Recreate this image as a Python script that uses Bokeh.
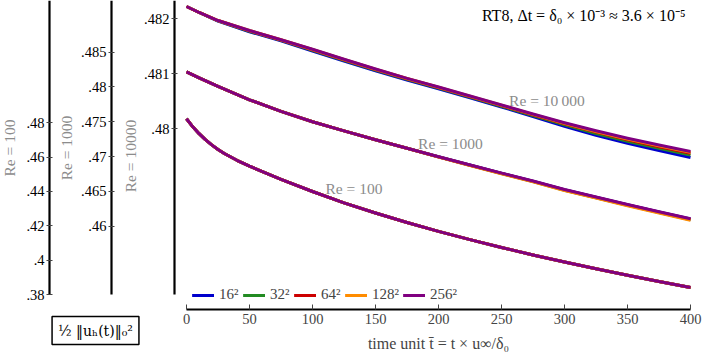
import math
from bokeh.plotting import figure
from bokeh.models import (Range1d, LinearAxis, FixedTicker, CustomJSTickFormatter,
                          Label, Legend, LegendItem)
from bokeh.embed import file_html
from bokeh.resources import INLINE

# ---------------- data ----------------
resolutions = ["16²", "32²", "64²", "128²", "256²"]
colors = ["#0000cc", "#228b22", "#cc0000", "#ff8c00", "#800080"]

# Re = 10 000
t_re10000 = [0, 10, 25, 50, 75, 100, 125, 150, 175, 200, 225, 250, 275, 300, 325, 350, 375, 400]
re10000_16 = [.482224, .482115, .481960, .481765, .481598, .481414, .481232, .481054, .480885, .480727,
              .480563, .480397, .480224, .480047, .479882, .479738, .479605, .479478]
re10000_32 = [.482224, .482115, .481964, .481774, .481607, .481429, .481247, .481069, .480900, .480742,
              .480576, .480411, .480242, .480073, .479915, .479774, .479645, .479521]
re10000_64 = [.482224, .482115, .481969, .481781, .481614, .481438, .481256, .481078, .480909, .480751,
              .480586, .480422, .480255, .480092, .479939, .479802, .479675, .479554]
re10000_128 = [.482224, .482115, .481969, .481787, .481620, .481443, .481261, .481083, .480914, .480756,
               .480591, .480428, .480262, .480101, .479952, .479815, .479690, .479571]
re10000_256 = [.482224, .482115, .481969, .481787, .481620, .481447, .481265, .481087, .480918, .480760,
               .480596, .480433, .480269, .480111, .479964, .479829, .479705, .479587]

# Re = 1000
t_re1000 = [0, 10, 25, 50, 75, 100, 125, 150, 175, 200, 225, 250, 275, 300, 325, 350, 375, 400]
re1000_16 = [.482184, .481322, .480086, .478161, .476494, .475000, .473693, .472428, .471193, .469976,
             .468783, .467609, .466464, .465243, .464165, .463078, .462043, .461023]
re1000_32 = [.482184, .481322, .480086, .478161, .476494, .475000, .473693, .472428, .471193, .469956,
             .468743, .467559, .466404, .465173, .464085, .462998, .461953, .460923]
re1000_64 = [.482184, .481322, .480086, .478161, .476494, .475000, .473693, .472428, .471193, .469966,
             .468763, .467589, .466444, .465213, .464135, .463048, .462003, .460983]
re1000_128 = [.482184, .481322, .480086, .478161, .476494, .475000, .473693, .472428, .471193, .469946,
              .468723, .467529, .466364, .465133, .464035, .462948, .461893, .460863]
re1000_256 = [.482184, .481322, .480086, .478161, .476494, .475000, .473693, .472428, .471193, .469986,
              .468793, .467629, .466494, .465273, .464195, .463118, .462083, .461063]

# Re = 100 (all resolutions coincide)
t_re100 = [0, 5, 10, 15, 20, 25, 30, 40, 50, 65, 75, 100, 125, 150, 175, 200, 225, 250, 275, 300,
           325, 350, 375, 400]
re100_256 = [.48230, .47764, .47362, .47013, .46710, .46443, .46210, .45814, .45470, .45004, .44707,
             .43997, .43339, .42745, .42192, .41674, .41197, .40737, .40300, .39892, .39496, .39124,
             .38757, .38408]
re100_16 = list(re100_256)
re100_32 = list(re100_256)
re100_64 = list(re100_256)
re100_128 = list(re100_256)

x_ticks = [0, 50, 100, 150, 200, 250, 300, 350, 400]
re10000_ticks = [.48, .481, .482]
re1000_ticks = [.46, .465, .47, .475, .48, .485]
re100_ticks = [.38, .40, .42, .44, .46, .48]

title_text = "RT8, Δt = δ₀ × 10⁻³ ≈ 3.6 × 10⁻⁵"
x_label = "time unit t̄ = t × u∞/δ₀"
y_box_label = "½ ‖uₕ(t)‖₀²"
axis_names = ["Re = 100", "Re = 1000", "Re = 10000"]

# ---------------- figure ----------------
FONT = "Liberation Serif"
GRAY = "#8c8c8c"
W, H = 706, 354

p = figure(width=W, height=H, output_backend="svg", toolbar_location=None,
           x_axis_location=None, y_axis_location=None,
           x_range=Range1d(-147.619, 412.698), y_range=Range1d(.475896, .482333),
           min_border_left=0, min_border_right=0, min_border_top=0, min_border_bottom=0)
p.extra_y_ranges = {"re1000": Range1d(.441566, .492428), "re100": Range1d(.345066, .551179)}
p.grid.visible = False
p.outline_line_color = None
p.background_fill_color = "white"
p.border_fill_color = "white"

fmt = CustomJSTickFormatter(code="return String(parseFloat(tick.toFixed(4))).replace(/^0\\./, '.');")


def y_axis(rng_name, ticks, bounds, loc):
    kw = {} if rng_name is None else {"y_range_name": rng_name}
    ax = LinearAxis(ticker=FixedTicker(ticks=ticks), bounds=bounds, fixed_location=loc, **kw)
    ax.axis_line_width = 2.2
    ax.axis_line_color = "black"
    ax.major_tick_in = 3
    ax.major_tick_out = 3
    ax.major_tick_line_color = "#444444"
    ax.major_tick_line_width = 1
    ax.minor_tick_line_color = None
    ax.major_label_text_font = FONT
    ax.major_label_text_font_size = "14.5px"
    ax.major_label_text_color = "black"
    ax.major_label_standoff = 2
    ax.formatter = fmt
    return ax


ax10000 = y_axis(None, re10000_ticks, (.476987, .482333), -9.524)
ax1000 = y_axis("re1000", re1000_ticks, (.450187, .492428), -59.524)
ax100 = y_axis("re100", re100_ticks, (.38, .551179), -108.73)
p.add_layout(ax10000, "left")
p.add_layout(ax1000, "left")
p.add_layout(ax100, "left")

# rotated names of the three y axes
for name, sx, sy in zip(axis_names, [9, 66, 129.5], [206.5, 206.5, 198.5]):
    p.add_layout(Label(x=sx, y=sy, x_units="screen", y_units="screen", text=name,
                       angle=math.pi / 2, text_align="center", text_baseline="middle",
                       text_font=FONT, text_font_size="15.5px", text_color=GRAY))

xax = LinearAxis(ticker=FixedTicker(ticks=x_ticks), bounds=(0, 400), fixed_location=.476715)
xax.axis_line_width = 2.2
xax.axis_line_color = "black"
xax.major_tick_in = 5
xax.major_tick_out = 0
xax.major_tick_line_color = "#444444"
xax.minor_tick_line_color = None
xax.major_label_text_font = FONT
xax.major_label_text_font_size = "14.5px"
xax.major_label_standoff = 5
xax.axis_label = x_label
xax.axis_label_text_font = FONT
xax.axis_label_text_font_size = "16px"
xax.axis_label_text_font_style = "normal"
xax.axis_label_standoff = 7
p.add_layout(xax, "below")

# ---------------- curves ----------------
groups = [
    (None, t_re10000, [re10000_16, re10000_32, re10000_64, re10000_128, re10000_256]),
    ("re1000", t_re1000, [re1000_16, re1000_32, re1000_64, re1000_128, re1000_256]),
    ("re100", t_re100, [re100_16, re100_32, re100_64, re100_128, re100_256]),
]
renderers = {r: [] for r in resolutions}
for rng, tt, series in groups:
    for res, col, ys in zip(resolutions, colors, series):
        kw = {} if rng is None else {"y_range_name": rng}
        r = p.line(tt, ys, line_color=col, line_width=3, line_join="round", **kw)
        renderers[res].append(r)

legend = Legend(items=[LegendItem(label=res, renderers=renderers[res]) for res in resolutions],
                orientation="horizontal", location=(192, 51),
                label_text_font=FONT, label_text_font_size="15px",
                glyph_width=22, glyph_height=16, label_height=16, label_standoff=5,
                spacing=4, padding=0, margin=0,
                border_line_color=None, background_fill_alpha=0)
p.add_layout(legend)

# ---------------- texts ----------------
p.add_layout(Label(x=396, y=H - 15, y_units="screen", text=title_text, text_align="right",
                   text_baseline="middle", text_font=FONT, text_font_size="16px",
                   text_color="black"))

p.add_layout(Label(x=286, y=.480515, text="Re = 10\u2009000", text_align="center",
                   text_baseline="middle", text_font=FONT, text_font_size="15.5px",
                   text_color=GRAY))
p.add_layout(Label(x=209.5, y=.471882, y_range_name="re1000", text="Re = 1000", text_align="center",
                   text_baseline="middle", text_font=FONT, text_font_size="15.5px",
                   text_color=GRAY))
p.add_layout(Label(x=132.9, y=.441718, y_range_name="re100", text="Re = 100", text_align="center",
                   text_baseline="middle", text_font=FONT, text_font_size="15.5px",
                   text_color=GRAY))

p.add_layout(Label(x=95, y=24, x_units="screen", y_units="screen", text=y_box_label,
                   text_align="center", text_baseline="middle", text_font="DejaVu Serif",
                   text_font_size="14px", text_color="black",
                   border_line_color="black", border_line_width=1.5,
                   background_fill_color="white", padding=6))

open("out.html", "w").write(file_html(p, INLINE))
